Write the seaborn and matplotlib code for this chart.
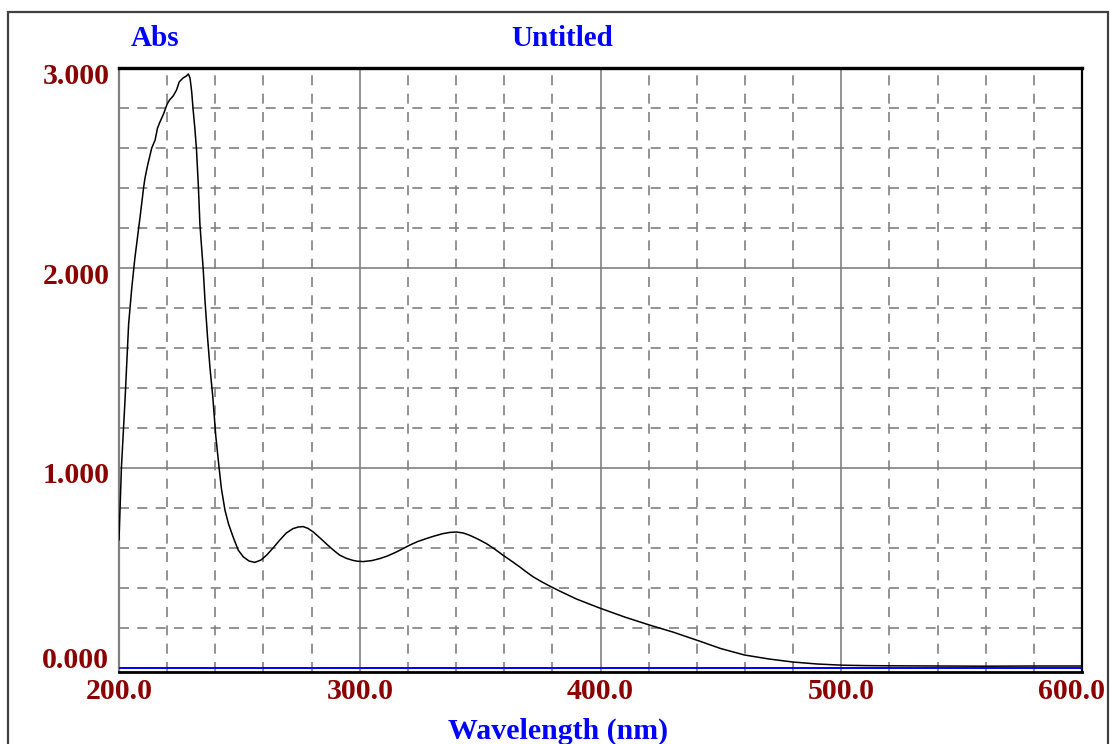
import matplotlib
matplotlib.use("Agg")
import matplotlib.pyplot as plt
import seaborn as sns
import pandas as pd
from matplotlib.ticker import MultipleLocator, FixedLocator
from matplotlib.patches import Rectangle
import matplotlib.transforms as mtransforms

# ---- data ----
wavelength = [200, 201, 202.5, 204, 205.3, 206.6, 208.7, 210.2, 210.8, 212, 213.6, 215, 216, 217,
              218.5, 220, 221, 222.5, 223.9, 225, 226.6, 228, 228.8, 229.5, 230.2, 230.8, 231.5,
              232.2, 233, 233.6, 235, 235.7, 236.8, 237.8, 239, 240.2, 241.5, 242.5, 244, 245.5,
              247.4, 249.5, 251.6, 254, 256.4, 259, 261.3, 264, 266.8, 269.5, 272.3, 274.5, 276.5,
              278.5, 280.7, 283.5, 286.2, 289, 291.7, 294.5, 297.2, 299, 301.4, 305, 308.3, 311.5,
              315.2, 318, 320.7, 324, 327.6, 331, 334.6, 337.5, 340.1, 343, 345.6, 349, 352.6, 356,
              359.5, 363, 366.4, 369, 372, 375, 378.2, 383, 390, 399.6, 410, 420.3, 430, 441, 450,
              459.8, 470, 479.8, 490, 500.5, 510, 520, 540, 560, 580, 600]
absorbance = [0.64, 1.00, 1.34, 1.72, 1.90, 2.05, 2.25, 2.40, 2.45, 2.52, 2.60, 2.64, 2.70, 2.73,
              2.77, 2.82, 2.84, 2.86, 2.89, 2.93, 2.95, 2.96, 2.97, 2.95, 2.88, 2.79, 2.70,
              2.59, 2.40, 2.22, 1.99, 1.84, 1.65, 1.50, 1.35, 1.16, 1.01, 0.90, 0.79, 0.72,
              0.655, 0.59, 0.556, 0.535, 0.528, 0.54, 0.564, 0.60, 0.64, 0.675, 0.697, 0.705, 0.707,
              0.698, 0.68, 0.65, 0.62, 0.59, 0.564, 0.548, 0.538, 0.534, 0.532, 0.537, 0.547, 0.56,
              0.58, 0.597, 0.614, 0.632, 0.647, 0.66, 0.672, 0.678, 0.68, 0.675, 0.664, 0.645, 0.622, 0.595,
              0.564, 0.535, 0.506, 0.482, 0.456, 0.435, 0.414, 0.385, 0.345, 0.30, 0.255, 0.215, 0.18, 0.135, 0.097,
              0.065, 0.045, 0.030, 0.020, 0.014, 0.012, 0.011, 0.010, 0.009, 0.010, 0.010]
baseline = 0.0
x_ticks = [200, 300, 400, 500, 600]
x_tick_labels = ["200.0", "300.0", "400.0", "500.0", "600.0"]
y_ticks = [0, 1, 2, 3]
y_tick_labels = ["0.000", "1.000", "2.000", "3.000"]
title = "Untitled"
y_title = "Abs"
x_title = "Wavelength (nm)"

df = pd.DataFrame({"Wavelength": wavelength, "Abs": absorbance})

sns.set_style("white")
plt.rcParams["font.family"] = ["Liberation Serif", "DejaVu Serif"]

W, H = 1110, 744
fig = plt.figure(figsize=(W / 100, H / 100), dpi=100)
ax = fig.add_axes([119 / W, 1 - 672 / H, (1082 - 119) / W, (672 - 68) / H])

# outer frame
fig.patches.append(Rectangle((8 / W, -0.1), (1108 - 8) / W, 1.1 - 12 / H,
                             transform=fig.transFigure, fill=False,
                             edgecolor="#404040", linewidth=1.6, zorder=0))

sns.lineplot(data=df, x="Wavelength", y="Abs", ax=ax, color="black", linewidth=1.1,
             sort=False, estimator=None, zorder=5)
ax.axhline(baseline, color="#0000ff", linewidth=1.4, zorder=6)

ax.set_xlim(200, 600)
ax.set_ylim(-0.02, 3.0)

ax.xaxis.set_major_locator(FixedLocator(x_ticks))
ax.yaxis.set_major_locator(FixedLocator(y_ticks))
ax.xaxis.set_minor_locator(MultipleLocator(20))
ax.yaxis.set_minor_locator(MultipleLocator(0.2))
ax.grid(which="major", color="#808080", linewidth=1.2, linestyle="-")
ax.grid(which="minor", color="#808080", linewidth=1.2, linestyle=(0, (6, 5)))
ax.set_axisbelow(True)

ax.set_xticklabels(x_tick_labels)
ax.set_yticklabels(y_tick_labels)
ax.tick_params(which="both", length=0)
ax.tick_params(axis="x", pad=4)
ax.tick_params(axis="y", pad=7)
for lbl in ax.get_xticklabels() + ax.get_yticklabels():
    lbl.set_fontsize(21.5)
    lbl.set_fontweight("bold")
    lbl.set_color("#8b0000")

# vertical fine-tuning of y labels (0.000 sits above the baseline)
offsets = {"0.000": 11, "1.000": -5, "2.000": -6, "3.000": -6}
for lbl in ax.get_yticklabels():
    dy = offsets.get(lbl.get_text(), 0)
    lbl.set_transform(lbl.get_transform() + mtransforms.ScaledTranslation(0, dy / 100, fig.dpi_scale_trans))
for lbl in ax.get_xticklabels():
    if lbl.get_text() == "600.0":
        lbl.set_transform(lbl.get_transform() + mtransforms.ScaledTranslation(-11 / 100, 0, fig.dpi_scale_trans))

ax.set_xlabel("")
ax.set_ylabel("")

for side in ["top", "bottom", "right", "left"]:
    ax.spines[side].set_visible(True)
ax.spines["top"].set_color("black")
ax.spines["top"].set_linewidth(2.4)
ax.spines["bottom"].set_color("black")
ax.spines["bottom"].set_linewidth(2.0)
ax.spines["right"].set_color("black")
ax.spines["right"].set_linewidth(1.6)
ax.spines["left"].set_color("#808080")
ax.spines["left"].set_linewidth(1.6)

fig.text(155 / W, 1 - 38 / H, y_title, ha="center", va="center", color="#0000ff",
         fontsize=21, fontweight="bold")
fig.text(562 / W, 1 - 38 / H, title, ha="center", va="center", color="#0000ff",
         fontsize=21, fontweight="bold")
fig.text(558 / W, 1 - 731 / H, x_title, ha="center", va="center", color="#0000ff",
         fontsize=21.5, fontweight="bold")

fig.savefig("out.png", dpi=100, facecolor="white")
